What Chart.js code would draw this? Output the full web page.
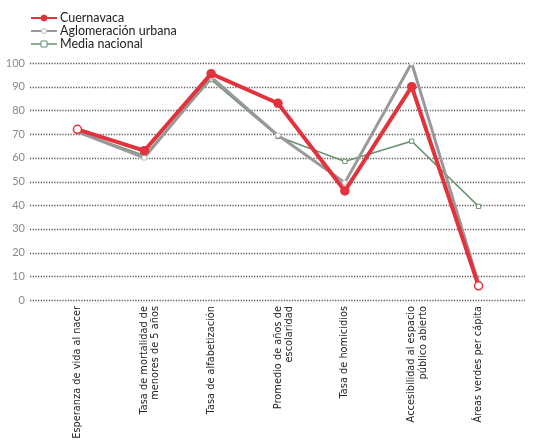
<!DOCTYPE html>
<html>
<head>
<meta charset="utf-8">
<script src="https://cdn.jsdelivr.net/npm/chart.js@4"></script>
<style>
  body { margin: 0; background: #fff; }
  #wrap { position: relative; width: 553px; height: 445px; }
  #legend { position: absolute; left: 31px; top: 11px; font-family: Lato, sans-serif; font-size: 12.5px; color: #222; }
  #legend div { height: 13px; line-height: 13px; display: flex; align-items: center; }
  #legend canvas { margin-right: 3px; }
</style>
</head>
<body>
<div id="wrap">
  <canvas id="chart" width="553" height="445"></canvas>
  <div id="legend"></div>
</div>
<script>
const categories = [
  "Esperanza de vida al nacer",
  ["Tasa de mortalidad de", "menores de 5 años"],
  "Tasa de alfabetización",
  ["Promedio de años de", "escolaridad"],
  "Tasa de homicidios",
  ["Accesibilidad al espacio", "público abierto"],
  "Áreas verdes per cápita"
];
const cuernavaca = [72, 63, 95.5, 83, 46, 90, 6];
const aglomeracion = [71, 60, 94, 69.5, 49.5, 100, 7];
const mediaNacional = [71, 61, 93, 69, 58.5, 67, 39.5];
const yTicks = [0, 10, 20, 30, 40, 50, 60, 70, 80, 90, 100];

const red = "#e2333d";
const grey = "#999999";
const green = "#6b9272";

// dotted gridlines that run a bit past the chart area like the original
const dottedGrid = {
  id: "dottedGrid",
  beforeDatasetsDraw(chart) {
    const { ctx, chartArea, scales } = chart;
    ctx.save();
    ctx.strokeStyle = "#555";
    ctx.lineWidth = 1.3;
    ctx.setLineDash([1.2, 1.5]);
    yTicks.forEach((t) => {
      const y = Math.round(scales.y.getPixelForValue(t)) + 0.5;
      ctx.beginPath();
      ctx.moveTo(chartArea.left - 14, y);
      ctx.lineTo(chartArea.right + 13, y);
      ctx.stroke();
    });
    ctx.restore();
  }
};

const ctx = document.getElementById("chart").getContext("2d");
const chart = new Chart(ctx, {
  type: "line",
  data: {
    labels: categories,
    datasets: [
      {
        label: "Cuernavaca",
        data: cuernavaca,
        borderColor: red,
        borderWidth: 4,
        pointRadius: 4,
        pointBorderWidth: 1.5,
        pointBorderColor: red,
        pointBackgroundColor: cuernavaca.map((v, i) => (i === 0 || i === cuernavaca.length - 1 ? "#fff" : red)),
        order: 1
      },
      {
        label: "Aglomeración urbana",
        data: aglomeracion,
        borderColor: grey,
        borderWidth: 3,
        pointRadius: 2.5,
        pointBorderWidth: 1,
        pointBorderColor: "#bbb",
        pointBackgroundColor: "#fff",
        order: 2
      },
      {
        label: "Media nacional",
        data: mediaNacional,
        borderColor: green,
        borderWidth: 1.5,
        pointStyle: "rect",
        pointRadius: 3,
        pointBorderWidth: 1,
        pointBorderColor: green,
        pointBackgroundColor: "#fff",
        order: 3
      }
    ]
  },
  options: {
    responsive: false,
    animation: false,
    layout: { padding: { top: 63, right: 41, left: 0, bottom: 0 } },
    plugins: { legend: { display: false }, tooltip: { enabled: false } },
    scales: {
      x: {
        offset: true,
        grid: { display: false },
        border: { display: false },
        ticks: {
          maxRotation: 90,
          minRotation: 90,
          padding: -2,
          color: "#222",
          font: { family: "DejaVu Sans", size: 9.8, lineHeight: 1.15 }
        },
        afterFit(scale) { scale.height = 145; }
      },
      y: {
        min: 0,
        max: 100,
        grid: { display: false, drawTicks: false },
        border: { display: false },
        ticks: {
          stepSize: 10,
          padding: 19,
          color: "#8a8a8a",
          font: { family: "Lato", size: 11 }
        },
        afterFit(scale) { scale.width = 44; }
      }
    }
  },
  plugins: [dottedGrid]
});

// legend stacked in the top left corner
const legend = document.getElementById("legend");
chart.data.datasets.forEach((ds) => {
  const row = document.createElement("div");
  const c = document.createElement("canvas");
  c.width = 26; c.height = 10;
  const g = c.getContext("2d");
  g.strokeStyle = ds.borderColor;
  g.lineWidth = Math.min(ds.borderWidth, 2);
  g.beginPath(); g.moveTo(0, 5); g.lineTo(26, 5); g.stroke();
  g.fillStyle = ds.label === "Cuernavaca" ? red : "#fff";
  g.strokeStyle = ds.label === "Cuernavaca" ? red : ds.pointBorderColor;
  g.lineWidth = 1;
  g.beginPath();
  if (ds.pointStyle === "rect") g.rect(10, 2, 6, 6);
  else g.arc(13, 5, ds.label === "Cuernavaca" ? 3 : 2.5, 0, Math.PI * 2);
  g.fill(); g.stroke();
  row.appendChild(c);
  row.appendChild(document.createTextNode(ds.label));
  legend.appendChild(row);
});
</script>
</body>
</html>
